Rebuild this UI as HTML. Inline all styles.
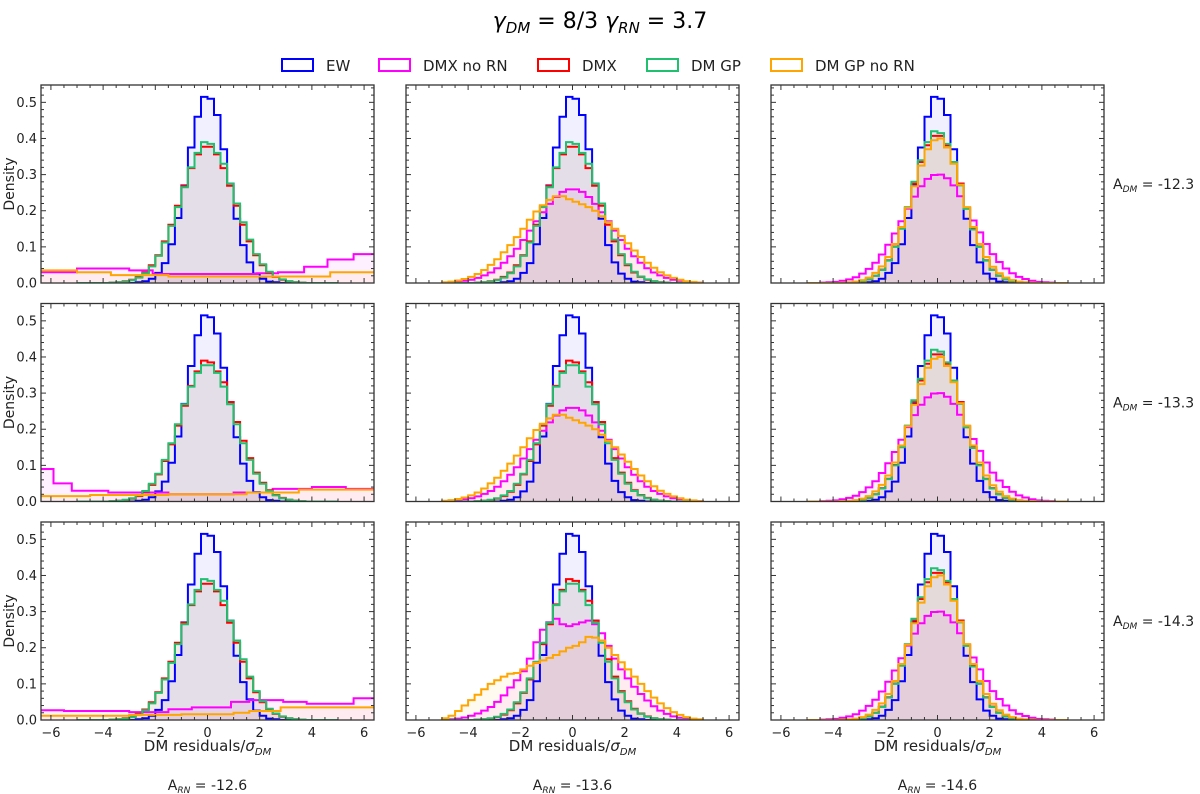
<!DOCTYPE html>
<html><head><meta charset="utf-8">
<style>
html,body{margin:0;padding:0;background:#fff;}
svg{display:block;font-family:"DejaVu Sans","Liberation Sans",sans-serif;}
</style></head>
<body>
<svg id="fig" width="1200" height="794" viewBox="0 0 1200 794" xmlns="http://www.w3.org/2000/svg">
  <text x="600" y="28" text-anchor="middle" font-size="22"><tspan font-style="italic">γ</tspan><tspan font-style="italic" font-size="15" dy="5">DM</tspan><tspan dy="-5"> = 8/3  </tspan><tspan font-style="italic">γ</tspan><tspan font-style="italic" font-size="15" dy="5">RN</tspan><tspan dy="-5"> = 3.7</tspan></text>
  <g id="legend"></g>
  <g id="panels"></g>
</svg>
<script>
// ---------- data ----------
const seriesNames = ["EW","DMX no RN","DMX","DM GP","DM GP no RN"];
const seriesColors = ["#0000ff","#ff00ff","#ff0000","#20c070","#ffa500"];
const rowLabels = ["-12.3","-13.3","-14.3"];
const colLabels = ["-12.6","-13.6","-14.6"];
const xTicks = [-6,-4,-2,0,2,4,6];
const yTicks = [0.0,0.1,0.2,0.3,0.4,0.5];
const binStart = -5, binWidth = 0.25;

const EW = [0,0,0,0,0,0,0,0,0,0.002,0.005,0.012,0.028,0.055,0.107,0.18,0.27,0.375,0.46,0.515,0.51,0.465,0.37,0.275,0.178,0.105,0.057,0.026,0.012,0.004,0.002,0,0,0,0,0,0,0,0,0];
const W38 = [0,0,0,0,0,0.001,0.002,0.005,0.009,0.017,0.029,0.049,0.077,0.115,0.161,0.214,0.269,0.318,0.356,0.377,0.377,0.356,0.318,0.269,0.214,0.161,0.115,0.077,0.049,0.029,0.017,0.009,0.005,0.002,0.001,0,0,0,0,0];
const G39 = [0,0,0,0,0,0.001,0.002,0.004,0.008,0.015,0.027,0.046,0.075,0.112,0.158,0.21,0.265,0.32,0.36,0.39,0.385,0.36,0.33,0.275,0.22,0.168,0.12,0.08,0.052,0.031,0.018,0.01,0.005,0.002,0.001,0,0,0,0,0];
const N15 = [0.001,0.002,0.004,0.006,0.009,0.014,0.021,0.029,0.041,0.056,0.074,0.095,0.119,0.145,0.171,0.196,0.219,0.238,0.252,0.259,0.259,0.252,0.238,0.219,0.196,0.171,0.145,0.119,0.095,0.074,0.056,0.041,0.029,0.021,0.014,0.009,0.006,0.004,0.002,0.001];
const O15 = [0.002,0.004,0.007,0.011,0.017,0.025,0.036,0.05,0.066,0.085,0.105,0.127,0.15,0.175,0.198,0.215,0.23,0.24,0.24,0.232,0.225,0.218,0.21,0.2,0.185,0.168,0.15,0.13,0.11,0.09,0.072,0.056,0.042,0.03,0.021,0.014,0.009,0.005,0.003,0.001];
const M23 = [0.001,0.002,0.004,0.007,0.012,0.018,0.026,0.036,0.05,0.068,0.09,0.11,0.135,0.17,0.215,0.25,0.27,0.28,0.265,0.26,0.265,0.27,0.275,0.265,0.24,0.205,0.17,0.14,0.115,0.092,0.072,0.054,0.038,0.026,0.017,0.01,0.006,0.003,0.002,0.001];
const O23 = [0.005,0.012,0.025,0.04,0.055,0.07,0.085,0.1,0.11,0.12,0.128,0.13,0.14,0.15,0.158,0.165,0.172,0.18,0.19,0.2,0.205,0.215,0.23,0.228,0.22,0.2,0.18,0.16,0.14,0.12,0.1,0.08,0.062,0.046,0.033,0.022,0.014,0.008,0.004,0.002];
const N13 = [0,0,0.001,0.002,0.003,0.006,0.01,0.016,0.026,0.039,0.056,0.079,0.106,0.137,0.171,0.206,0.239,0.268,0.288,0.299,0.3,0.29,0.27,0.24,0.208,0.173,0.14,0.108,0.08,0.058,0.04,0.027,0.017,0.011,0.006,0.003,0.002,0.001,0,0];
const P41 = [0,0,0,0,0,0,0.001,0.002,0.005,0.01,0.02,0.037,0.063,0.101,0.151,0.209,0.275,0.335,0.381,0.407,0.407,0.381,0.335,0.275,0.209,0.151,0.101,0.063,0.037,0.02,0.01,0.005,0.002,0.001,0,0,0,0,0,0];
const P42 = [0,0,0,0,0,0,0.001,0.002,0.005,0.01,0.02,0.036,0.062,0.1,0.15,0.21,0.28,0.34,0.39,0.42,0.415,0.385,0.335,0.27,0.205,0.148,0.1,0.062,0.036,0.02,0.01,0.005,0.002,0.001,0,0,0,0,0,0];
const P40 = [0,0,0,0,0,0.001,0.002,0.004,0.008,0.015,0.028,0.046,0.072,0.108,0.155,0.208,0.268,0.325,0.37,0.395,0.4,0.375,0.33,0.272,0.21,0.155,0.108,0.072,0.045,0.027,0.015,0.008,0.004,0.002,0.001,0,0,0,0,0];
// wide, coarse-binned histograms (first column)
const M1e = [-6.4,-5.0,-3.0,-2.1,1.9,2.7,3.7,4.6,5.6,6.4];
const M1h = [0.03,0.04,0.035,0.025,0.027,0.03,0.045,0.065,0.08];
const O1e = [-6.4,-5.0,-3.7,-1.5,1.5,4.7,6.4];
const O1h = [0.035,0.03,0.022,0.018,0.018,0.03];
const M2e = [-6.4,-5.9,-5.2,-3.8,-1.5,1.0,2.5,4.0,5.3,6.4];
const M2h = [0.09,0.05,0.03,0.025,0.02,0.025,0.035,0.04,0.035];
const O2e = [-6.4,-4.5,-1.5,1.5,3.5,6.4];
const O2h = [0.015,0.018,0.02,0.025,0.033];
const M3e = [-6.4,-5.5,-3.0,-1.5,-0.6,0.9,1.6,2.9,3.8,5.6,6.4];
const M3h = [0.027,0.025,0.022,0.03,0.035,0.05,0.055,0.05,0.045,0.06];
const O3e = [-6.4,-3.0,-1.0,1.0,1.6,2.8,6.4];
const O3h = [0.012,0.014,0.016,0.02,0.025,0.035];

function uni(h){ const e=[]; for(let i=0;i<=h.length;i++) e.push(binStart+i*binWidth); return {e:e,h:h}; }
const panelData = [
  [[uni(EW),{e:M1e,h:M1h},uni(W38),uni(G39),{e:O1e,h:O1h}], [uni(EW),uni(N15),uni(W38),uni(G39),uni(O15)], [uni(EW),uni(N13),uni(P41),uni(P42),uni(P40)]],
  [[uni(EW),{e:M2e,h:M2h},uni(G39),uni(W38),{e:O2e,h:O2h}], [uni(EW),uni(N15),uni(G39),uni(W38),uni(O15)], [uni(EW),uni(N13),uni(P41),uni(P42),uni(P40)]],
  [[uni(EW),{e:M3e,h:M3h},uni(W38),uni(G39),{e:O3e,h:O3h}], [uni(EW),uni(M23),uni(G39),uni(W38),uni(O23)], [uni(EW),uni(N13),uni(P41),uni(P42),uni(P40)]]
];

// ---------- layout ----------
const NS="http://www.w3.org/2000/svg";
const colX=[41,406,771], rowY=[85,303.5,522], PW=333, PH=198;
const XMIN=-6.38, XMAX=6.38, YMAX=0.548;
function mk(tag,attrs,parent){const el=document.createElementNS(NS,tag);for(const k in attrs)el.setAttribute(k,attrs[k]);parent.appendChild(el);return el;}

// legend
const leg=document.getElementById('legend');
const legX=[282,379,538,647,771];
for(let i=0;i<5;i++){
  const g=mk('g',{},leg);
  
  
  const r=mk('rect',{x:legX[i],y:59,width:31,height:12,fill:'none',stroke:seriesColors[i],'stroke-width':2},g);
  
  
  const t=mk('text',{x:legX[i]+44,y:71,'font-size':15,fill:'#222'},g);
  
  
  t.textContent=seriesNames[i];
}

const root=document.getElementById('panels');
for(let r=0;r<3;r++)for(let c=0;c<3;c++){
  const x0=colX[c], y0=rowY[r];
  const sx=v=>x0+(v-XMIN)/(XMAX-XMIN)*PW;
  const sy=v=>y0+PH-(v/YMAX)*PH;
  const g=mk('g',{},root);
  
  
  const cid='clip'+r+c;
  const cp=mk('clipPath',{id:cid},g); mk('rect',{x:x0,y:y0,width:PW,height:PH},cp);
  const hg=mk('g',{'clip-path':'url(#'+cid+')'},g);
  const paths=[];
  panelData[r][c].forEach((s,i)=>{
    let d='M'+sx(s.e[0]).toFixed(1)+','+sy(0).toFixed(1);
    for(let k=0;k<s.h.length;k++){
      d+=' L'+sx(s.e[k]).toFixed(1)+','+sy(s.h[k]).toFixed(1)+' L'+sx(s.e[k+1]).toFixed(1)+','+sy(s.h[k]).toFixed(1);
    }
    d+=' L'+sx(s.e[s.e.length-1]).toFixed(1)+','+sy(0).toFixed(1);
    const f=mk('path',{d:d+' Z',fill:seriesColors[i],'fill-opacity':0.06,stroke:'none'},hg);
    
    
    paths.push(d);
  });
  paths.forEach((d,i)=>{
    const p=mk('path',{d:d,fill:'none',stroke:seriesColors[i],'stroke-width':2,'stroke-linejoin':'miter'},hg);
    
    
  });
  const tk=mk('g',{stroke:'#333','stroke-width':1},g);
  
  
  for(let v=-6;v<=6.01;v+=0.5){
    const X=sx(v), L=(Math.abs(v%2)<1e-6)?5:3;
    mk('line',{x1:X,y1:y0+PH,x2:X,y2:y0+PH-L},tk);
    mk('line',{x1:X,y1:y0,x2:X,y2:y0+L},tk);
  }
  for(let v=0;v<=0.541;v+=0.02){
    const Y=sy(v), L=(Math.round(v*100)%10===0)?5:3;
    mk('line',{x1:x0,y1:Y,x2:x0+L,y2:Y},tk);
    mk('line',{x1:x0+PW,y1:Y,x2:x0+PW-L,y2:Y},tk);
  }
  const fr=mk('rect',{x:x0,y:y0,width:PW,height:PH,fill:'none',stroke:'#333','stroke-width':1.3},g);
  
  
  if(c===0){
    yTicks.forEach(v=>{
      const t=mk('text',{x:x0-4,y:sy(v)+4.5,'font-size':13,'text-anchor':'end',fill:'#222'},g);
      
      
      t.textContent=v.toFixed(1);
    });
    const yl=mk('text',{x:14,y:y0+PH/2,'font-size':14,'text-anchor':'middle',transform:'rotate(-90 14 '+(y0+PH/2)+')',fill:'#222'},g);
    
    
    yl.textContent='Density';
  }
  if(r===2){
    xTicks.forEach(v=>{
      const t=mk('text',{x:sx(v),y:y0+PH+17,'font-size':13,'text-anchor':'middle',fill:'#222'},g);
      
      
      t.textContent=(v<0?'\u2212'+(-v):''+v);
    });
    const xl=mk('text',{x:x0+PW/2,y:751,'font-size':15,'text-anchor':'middle',fill:'#222'},g);
    
    
    xl.innerHTML='DM residuals/<tspan font-style="italic">σ</tspan><tspan font-style="italic" font-size="10" dy="4">DM</tspan>';
    const cl=mk('text',{x:x0+PW/2,y:790,'font-size':14,'text-anchor':'middle',fill:'#222'},g);
    
    
    cl.innerHTML='A<tspan font-style="italic" font-size="9" dy="3">RN</tspan><tspan dy="-3"> = '+colLabels[c]+'</tspan>';
  }
  if(c===2){
    const rl=mk('text',{x:1113,y:y0+PH/2+5,'font-size':14,fill:'#222'},g);
    
    
    rl.innerHTML='A<tspan font-style="italic" font-size="9" dy="3">DM</tspan><tspan dy="-3"> = '+rowLabels[r]+'</tspan>';
  }
}
</script>
</body></html>
